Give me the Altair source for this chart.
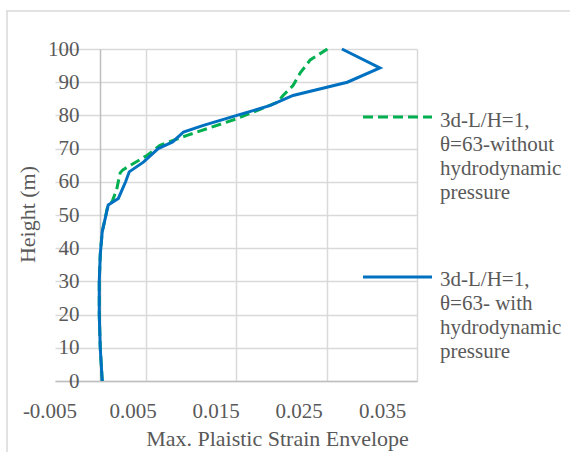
import altair as alt
import pandas as pd

# Series: with hydrodynamic pressure (blue, solid)
with_height = [0, 10, 20, 30, 38, 45, 49, 53, 55, 60, 63, 66, 70, 72, 75, 77, 80, 83, 86, 90, 94.3, 100]
with_strain = [0.00022, 0.0, -0.00011, -0.00011, 0.0, 0.00022, 0.00055, 0.00088, 0.0020, 0.0028,
               0.0032, 0.0048, 0.0064, 0.0080, 0.0092, 0.0114, 0.0151, 0.0188, 0.0213, 0.0273,
               0.0309, 0.0267]

# Series: without hydrodynamic pressure (green, dashed)
without_height = [0, 10, 20, 30, 38, 45, 49, 52, 54, 57.5, 62.7, 63.6, 68, 71, 74, 79, 84, 86, 89,
                  92.8, 96.7, 100]
without_strain = [0.00022, 0.0, -0.00011, -0.00011, 0.0, 0.00022, 0.00055, 0.00077, 0.0013, 0.0018,
                  0.0022, 0.0025, 0.0052, 0.0066, 0.0096, 0.0151, 0.0196, 0.0202, 0.0213, 0.0221,
                  0.0232, 0.0251]

x_ticks = [-0.005, 0.005, 0.015, 0.025, 0.035]
y_ticks = [0, 10, 20, 30, 40, 50, 60, 70, 80, 90, 100]

label_without = "3d-L/H=1,\nθ=63-without\nhydrodynamic\npressure"
label_with = "3d-L/H=1,\nθ=63- with\nhydrodynamic\npressure"

df_with = pd.DataFrame({"strain": with_strain, "height": with_height,
                        "idx": list(range(len(with_height)))})
df_without = pd.DataFrame({"strain": without_strain, "height": without_height,
                           "idx": list(range(len(without_height)))})
one = pd.DataFrame({"k": [0]})

FONT = "Liberation Serif"
TXT = "#595959"
GREEN = "#00b050"
BLUE = "#0070c0"

label_shift = {"condition": [
    {"test": "datum.value < 0", "value": -5.5},
    {"test": "datum.value < 0.01", "value": -13},
    {"test": "datum.value < 0.02", "value": -20.5},
    {"test": "datum.value < 0.03", "value": -28},
], "value": -35}

x_enc = alt.X("strain:Q",
              scale=alt.Scale(domain=[-0.005, 0.035], nice=False, zero=False),
              axis=alt.Axis(values=x_ticks, title="Max. Plaistic Strain Envelope",
                            labelExpr="datum.value < 0 ? '-' + format(-datum.value, '.3f') : format(datum.value, '.3f')",
                            grid=True, ticks=False, labelPadding=36, labelBaseline="alphabetic",
                            labelFlush=False, labelOverlap=False, labelOffset=label_shift,
                            gridOpacity={"condition": {"test": "datum.value < -0.004", "value": 0}, "value": 1},
                            titleX=222, titleY=64, titleAlign="center", titleBaseline="alphabetic",
                            titleFontSize=22))
y_enc = alt.Y("height:Q",
              scale=alt.Scale(domain=[0, 100], nice=False),
              axis=alt.Axis(values=y_ticks, title="Height (m)", grid=True, ticks=False,
                            offset=-45, labelPadding=21, labelAlign="right", labelBaseline="middle",
                            labelFlush=False, labelOverlap=False,
                            titleAngle=270, titleX=-66, titleY=165, titleAlign="center",
                            titleBaseline="alphabetic", titleFontSize=22))

line_without = alt.Chart(df_without).mark_line(color=GREEN, strokeWidth=3, strokeDash=[10, 5]).encode(
    x=x_enc, y=y_enc, order="idx:Q")
line_with = alt.Chart(df_with).mark_line(color=BLUE, strokeWidth=3).encode(
    x=x_enc, y=y_enc, order="idx:Q")

legend_rule_without = alt.Chart(one).mark_rule(color=GREEN, strokeWidth=3, strokeDash=[10, 5]).encode(
    x=alt.value(308), x2=alt.value(377), y=alt.value(68))
legend_rule_with = alt.Chart(one).mark_rule(color=BLUE, strokeWidth=3).encode(
    x=alt.value(308), x2=alt.value(377), y=alt.value(228))
legend_text_without = alt.Chart(one).mark_text(
    align="left", baseline="alphabetic", font=FONT, fontSize=21, color=TXT, lineBreak="\n",
    lineHeight=24).encode(x=alt.value(385), y=alt.value(78), text=alt.value(label_without))
legend_text_with = alt.Chart(one).mark_text(
    align="left", baseline="alphabetic", font=FONT, fontSize=21, color=TXT, lineBreak="\n",
    lineHeight=24).encode(x=alt.value(385), y=alt.value(237), text=alt.value(label_with))

border = alt.Chart(one).mark_rect(fill=None, fillOpacity=0, stroke="#d9d9d9", strokeWidth=1.5).encode(
    x=alt.value(-48), x2=alt.value(640), y=alt.value(-38), y2=alt.value(520))

chart = alt.layer(
    border, line_without, line_with,
    legend_rule_without, legend_rule_with, legend_text_without, legend_text_with
).properties(
    width=362, height=332,
    autosize=alt.AutoSizeParams(type="none"),
    padding={"left": 55, "top": 49, "right": 153, "bottom": 71},
    background="white"
).configure_view(stroke=None).configure_axis(
    labelFont=FONT, labelFontSize=21, labelColor=TXT,
    titleFont=FONT, titleFontSize=21, titleColor=TXT, titleFontWeight="normal",
    gridColor="#d9d9d9", gridWidth=1.5, domainColor="#bfbfbf", domainWidth=1.5
)

chart.save("out.html", embed_options={"renderer": "svg", "actions": False})
